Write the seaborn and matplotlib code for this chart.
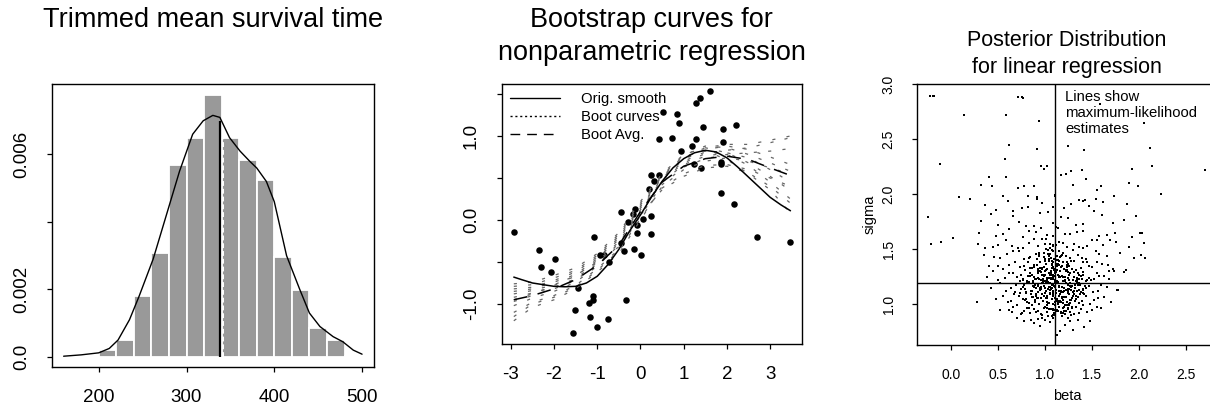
import numpy as np
import pandas as pd
import seaborn as sns
import matplotlib.pyplot as plt
from matplotlib.lines import Line2D

# ---- panel 1: trimmed mean survival time ----
bin_edges = [200, 220, 240, 260, 280, 300, 320, 340, 360, 380, 400, 420, 440, 460, 480, 500]
hist_density = [0.0002, 0.0005, 0.00181, 0.00307, 0.00568, 0.00649, 0.00775, 0.00649,
                0.00584, 0.00523, 0.00297, 0.00198, 0.00087, 0.0005, 0.00004]
dens_x = [160, 180, 200, 212, 222, 235, 246, 262, 277, 292, 307, 319, 330, 338,
          349, 361, 372, 380, 391, 400, 414, 429, 440, 452, 467, 478, 490, 500]
dens_y = [0.00002, 0.00006, 0.00012, 0.00025, 0.0005, 0.0011, 0.0018, 0.0029, 0.0042,
          0.0055, 0.0066, 0.0070, 0.00716, 0.0071, 0.0065, 0.0061, 0.0058, 0.0056,
          0.0052, 0.0046, 0.0030, 0.0020, 0.0013, 0.0009, 0.0006, 0.00045, 0.0002, 0.00008]
tmean = 338.5
tmean_top = 0.00700

# ---- panel 2: bootstrap curves ----
pts_x = [-2.93, -2.35, -2.31, -1.98, -2.06, -1.45, -1.51, -1.57, -1.08, -1.10,
         -1.09, -1.19, -1.16, -1.00, -0.93, -0.85, -0.72, -0.74, -0.45, -0.45,
         -0.39, -0.34, -0.29, -0.18, -0.12, -0.14, -0.08, -0.07, 0.02, 0.07,
         0.25, 0.25, 0.19, 0.25, 0.32, 0.44, 0.43, 0.51, 0.72, 0.85,
         0.88, 0.93, 1.20, 1.24, 1.28, 1.37, 1.29, 1.40, 1.45, 1.62,
         1.87, 1.87, 1.87, 1.90, 1.90, 2.16, 2.22, 2.69, 3.47]
pts_y = [-0.14, -0.36, -0.56, -0.46, -0.62, -0.81, -1.07, -1.35, -0.20, -0.90,
         -0.95, -0.99, -1.15, -1.27, -0.42, -0.42, -0.50, -1.18, 0.10, -0.27,
         -0.37, -0.95, -0.02, 0.07, 0.13, -0.34, -0.06, -0.15, -0.42, 0.01,
         0.05, -0.17, 0.37, 0.53, 0.46, 0.53, 0.96, 1.29, 0.98, 1.26,
         1.15, 0.82, 0.88, 0.67, 1.39, 1.45, 0.96, 0.62, 1.11, 1.54,
         0.67, 0.69, 0.32, 0.93, 1.08, 0.19, 1.13, -0.20, -0.26]

smooth_x = [-2.93, -2.75, -2.5, -2.25, -2.0, -1.75, -1.5, -1.25, -1.0, -0.75, -0.5, -0.25, 0.0,
            0.25, 0.5, 0.75, 1.0, 1.25, 1.5, 1.75, 2.0, 2.25, 2.5, 2.75, 3.0, 3.25, 3.47]
smooth_y = [-0.68, -0.71, -0.75, -0.77, -0.79, -0.795, -0.79, -0.75, -0.67, -0.53, -0.35, -0.13, 0.06,
            0.27, 0.46, 0.62, 0.73, 0.80, 0.83, 0.81, 0.74, 0.63, 0.51, 0.39, 0.27, 0.18, 0.11]

knot_x = [-2.93, -2.5, -2.0, -1.5, -1.0, -0.5, 0.0, 0.5, 1.0, 1.5, 2.0, 2.5, 3.0, 3.47]
avg_y = [-0.95, -0.90, -0.82, -0.71, -0.54, -0.30, 0.10, 0.45, 0.64, 0.73, 0.76, 0.72, 0.62, 0.53]
boot_curves = [
    [-1.20, -1.04, -0.95, -0.82, -0.62, -0.40, 0.00, 0.40, 0.60, 0.70, 0.74, 0.70, 0.62, 0.55],
    [-1.10, -0.98, -0.90, -0.78, -0.58, -0.35, 0.05, 0.42, 0.63, 0.73, 0.78, 0.80, 0.82, 0.85],
    [-1.02, -0.93, -0.85, -0.74, -0.55, -0.30, 0.08, 0.45, 0.66, 0.76, 0.80, 0.74, 0.60, 0.45],
    [-0.97, -0.90, -0.82, -0.72, -0.52, -0.28, 0.10, 0.47, 0.68, 0.79, 0.83, 0.86, 0.92, 0.98],
    [-0.92, -0.87, -0.80, -0.70, -0.50, -0.26, 0.12, 0.48, 0.70, 0.81, 0.78, 0.65, 0.45, 0.25],
    [-0.88, -0.84, -0.77, -0.67, -0.48, -0.23, 0.14, 0.50, 0.72, 0.84, 0.88, 0.84, 0.75, 0.66],
    [-0.85, -0.82, -0.74, -0.65, -0.46, -0.21, 0.16, 0.51, 0.74, 0.86, 0.90, 0.90, 0.95, 1.00],
    [-0.82, -0.80, -0.72, -0.62, -0.44, -0.19, 0.18, 0.52, 0.76, 0.82, 0.72, 0.55, 0.36, 0.08],
    [-0.79, -0.77, -0.69, -0.60, -0.42, -0.17, 0.20, 0.53, 0.77, 0.88, 0.86, 0.78, 0.68, 0.58],
    [-0.76, -0.74, -0.66, -0.57, -0.40, -0.15, 0.22, 0.55, 0.78, 0.86, 0.80, 0.68, 0.52, 0.35],
    [-1.15, -1.00, -0.92, -0.80, -0.60, -0.37, 0.02, 0.38, 0.55, 0.65, 0.66, 0.60, 0.50, 0.40],
    [-0.95, -0.88, -0.78, -0.66, -0.50, -0.32, 0.06, 0.36, 0.52, 0.62, 0.64, 0.56, 0.40, 0.20],
]

# ---- panel 3: posterior draws ----
post_beta = [
    1.12, 0.95, 1.30, 0.88, 1.05, 1.21, 0.78, 1.42, 1.00, 1.16,
    0.92, 1.27, 1.08, 0.70, 1.35, 1.18, 0.85, 1.48, 1.03, 1.24,
    0.62, 0.74, 0.81, 0.90, 0.97, 1.04, 1.10, 1.15, 1.22, 1.31,
    1.38, 1.45, 1.55, 0.86, 0.99, 1.13, 1.26, 1.08, 0.93, 1.19,
    0.70, 0.78, 1.02, 1.36, 1.50, 1.28, 0.84, 1.11, 1.06, 0.96,
    1.17, 1.24, 0.88, 0.75, 1.41, 1.33, 1.00, 1.14, 0.66, 1.60,
    0.48, 0.60, 0.72, 0.83, 0.91, 0.98, 1.05, 1.09, 1.13, 1.18,
    1.23, 1.29, 1.36, 1.44, 1.52, 1.63, 0.67, 0.79, 0.94, 1.02,
    1.11, 1.16, 1.26, 1.33, 1.48, 0.55, 0.87, 1.07, 1.21, 1.39,
    0.76, 0.99, 1.14, 1.31, 1.57, 1.70, 0.64, 1.04, 1.19, 0.90,
    1.27, 1.42, 0.81, 0.96, 1.09, 1.35, 1.12, 1.00, 0.73, 1.24,
    0.42, 0.58, 0.69, 0.80, 0.88, 0.95, 1.01, 1.06, 1.10, 1.15,
    1.20, 1.25, 1.32, 1.40, 1.47, 1.56, 1.66, 1.78, 0.52, 0.74,
    0.85, 0.93, 1.03, 1.08, 1.13, 1.18, 1.28, 1.37, 1.51, 0.64,
    0.99, 1.12, 1.22, 1.34, 1.44, 0.78, 0.90, 1.05, 1.17, 1.29,
    0.97, 1.09, 1.40, 0.68, 1.60, 1.25, 1.02, 0.83, 1.14, 1.36,
    0.38, 0.50, 0.62, 0.73, 0.82, 0.89, 0.96, 1.02, 1.07, 1.11,
    1.16, 1.21, 1.27, 1.34, 1.41, 1.49, 1.58, 1.68, 1.84, 0.57,
    0.77, 0.92, 1.04, 1.13, 1.24, 1.38, 1.52, 0.66, 1.00, 1.19,
    0.86, 1.09, 1.31, 1.45, 0.70, 1.06, 1.15, 1.63, 0.98, 1.26,
    1.12, 0.94, 1.36, 0.81, 1.55, 1.04, 1.22, 1.74, 0.45, 1.09,
    0.40, 0.55, 0.68, 0.79, 0.88, 0.97, 1.04, 1.09, 1.14, 1.20,
    1.26, 1.33, 1.41, 1.50, 1.61, 1.73, 0.62, 0.84, 1.00, 1.17,
    1.29, 1.45, 0.73, 0.92, 1.07, 1.23, 1.38, 1.55, 1.86, 0.50,
    1.12, 0.95, 1.31, 1.02, 1.18, 0.82, 1.47, 1.67, 1.10, 1.25,
    0.35, 0.52, 0.66, 0.78, 0.90, 0.99, 1.07, 1.13, 1.19, 1.27,
    1.35, 1.44, 1.54, 1.66, 1.80, 1.95, 0.59, 0.84, 1.03, 1.22,
    1.39, 0.72, 0.94, 1.10, 1.30, 1.58, 0.46, 1.15, 1.00, 2.02,
    0.28, 0.44, 0.58, 0.71, 0.83, 0.93, 1.01, 1.08, 1.15, 1.23,
    1.31, 1.40, 1.50, 1.62, 1.76, 1.90, 2.06, 0.65, 0.88, 1.12,
    1.36, 1.55, 0.50, 0.77, 0.97, 1.19, 1.45, 1.69, 0.36, 1.05,
    0.30, 0.48, 0.62, 0.76, 0.90, 1.02, 1.14, 1.27, 1.41, 1.58,
    1.75, 1.93, 2.03, 0.55, 0.83, 1.08, 1.34, 1.66, 0.96, 1.21,
    0.32, 0.50, 0.66, 0.80, 0.95, 1.09, 1.24, 1.40, 1.61, 1.84,
    0.42, 0.72, 0.88, 1.03, 1.17, 1.33, 1.52, 1.72, 1.97, 1.12,
    0.36, 0.48, 0.60, 0.82, 0.97, 1.20, 1.36, 1.47, 1.62, 1.87,
    0.55, 0.75, 0.91, 1.11, 1.28, 1.54, 1.74, 1.40, 0.66, 1.08,
    -0.23, -0.20, -0.18, 0.13, 0.58, 0.71, 0.75, 0.77, 0.94, 0.62,
    0.91, 0.57, -0.12, 0.96, 1.02, 0.99, 0.58, 0.40, 0.43, 0.32,
    0.08, 0.20, -0.25, -0.22, -0.11, 0.02, 1.25, 1.42, 1.59, 2.06,
    2.12, 2.14, 2.24, 2.71, 1.22, 1.28, 1.39, 1.44, 1.30, 1.93,
    1.90, 1.99, 1.17, 0.71, 0.78, 0.88, 0.82, 0.91, 1.11, 1.55,
    1.60, 1.43, 2.01, 2.07, 0.27, 1.13, 0.52, 1.77, 0.65, 1.68,
    1.05, 1.12, 0.98, 1.18, 1.08, 0.92, 1.25, 1.02, 1.15, 0.87,
    1.11, 1.22, 0.95, 1.06, 1.30, 0.84, 1.17, 1.01, 1.13, 1.27,
    0.91, 1.09, 1.20, 0.79, 1.04, 1.16, 1.34, 0.97, 1.10, 1.23,
    1.07, 0.89, 1.28, 1.14, 0.99, 1.19, 0.76, 1.38, 1.03, 1.10,
    1.24, 0.96, 1.11, 1.32, 0.86, 1.06, 1.21, 1.00, 1.15, 0.93,
    1.08, 1.17, 0.82, 1.26, 1.02, 1.13, 0.94, 1.36, 1.19, 1.05,
    1.03, 1.16, 0.89, 1.21, 0.97, 1.09, 1.31, 0.84, 1.14, 1.00,
    1.19, 0.93, 1.07, 1.27, 1.12, 0.80, 1.40, 1.05, 0.99, 1.23,
    0.87, 1.13, 1.01, 1.33, 1.18, 0.95, 1.08, 1.25, 0.74, 1.14,
    1.10, 1.29, 0.90, 1.04, 1.20, 0.98, 1.43, 1.15, 0.83, 1.06,
    0.96, 1.22, 1.07, 1.35, 0.88, 1.12, 1.01, 1.26, 1.17, 0.78,
    1.16, 1.04, 0.92, 1.30, 1.09, 1.21, 0.86, 1.13, 1.47, 1.00,
    1.12, 0.99, 1.24, 0.81, 1.06, 1.18, 1.37, 0.94, 1.10, 1.28,
    1.02, 1.14, 0.91, 1.23, 1.08, 1.32, 0.97, 1.19, 0.85, 1.11,
    1.20, 1.05, 1.34, 0.89, 1.15, 1.01, 1.27, 0.77, 1.09, 1.41,
    0.95, 1.17, 1.06, 1.29, 0.83, 1.12, 1.24, 1.00, 1.39, 1.07,
    1.13, 0.98, 1.22, 1.08, 1.31, 0.92, 1.16, 1.04, 1.26, 0.87,
    1.07, 1.19, 0.93, 1.35, 1.11, 1.02, 1.25, 0.80, 1.15, 1.44,
    1.18, 1.03, 1.28, 0.97, 1.10, 1.21, 0.88, 1.33, 1.05, 1.13,
    0.90, 1.14, 1.01, 1.23, 1.36, 1.08, 0.96, 1.17, 1.30, 1.05,
    1.22, 0.86, 1.11, 1.02, 1.27, 1.15, 0.99, 1.38, 1.07, 1.20,
]
post_sigma = [
    0.72, 0.80, 0.77, 0.83, 0.84, 0.81, 0.85, 0.79, 0.86, 0.76,
    0.87, 0.85, 0.88, 0.88, 0.86, 0.89, 0.86, 0.85, 0.89, 0.88,
    0.95, 0.91, 0.97, 0.93, 0.90, 0.96, 0.92, 0.98, 0.94, 0.91,
    0.96, 0.93, 0.98, 0.99, 0.97, 0.95, 0.99, 0.90, 0.94, 0.97,
    0.99, 0.94, 0.93, 0.92, 0.95, 0.90, 0.92, 0.99, 0.96, 0.91,
    0.93, 0.97, 0.96, 0.92, 0.99, 0.98, 0.98, 0.94, 0.98, 0.97,
    1.05, 1.02, 1.08, 1.01, 1.06, 1.03, 1.09, 1.00, 1.04, 1.07,
    1.02, 1.06, 1.01, 1.08, 1.04, 1.07, 1.09, 1.04, 1.00, 1.02,
    1.06, 1.03, 1.09, 1.05, 1.00, 1.08, 1.07, 1.05, 1.07, 1.03,
    1.05, 1.08, 1.01, 1.09, 1.06, 1.02, 1.03, 1.01, 1.04, 1.09,
    1.04, 1.09, 1.02, 1.06, 1.08, 1.07, 1.10, 1.10, 1.10, 1.10,
    1.15, 1.12, 1.18, 1.11, 1.16, 1.13, 1.19, 1.14, 1.17, 1.12,
    1.15, 1.11, 1.18, 1.14, 1.17, 1.12, 1.16, 1.13, 1.19, 1.14,
    1.12, 1.18, 1.14, 1.11, 1.19, 1.16, 1.13, 1.18, 1.11, 1.15,
    1.17, 1.13, 1.19, 1.12, 1.15, 1.18, 1.15, 1.16, 1.11, 1.17,
    1.19, 1.12, 1.13, 1.11, 1.18, 1.14, 1.20, 1.20, 1.20, 1.19,
    1.25, 1.22, 1.28, 1.21, 1.26, 1.23, 1.29, 1.24, 1.27, 1.22,
    1.25, 1.21, 1.28, 1.24, 1.27, 1.22, 1.26, 1.23, 1.29, 1.24,
    1.22, 1.28, 1.24, 1.21, 1.29, 1.26, 1.23, 1.28, 1.21, 1.25,
    1.27, 1.23, 1.29, 1.22, 1.25, 1.28, 1.25, 1.26, 1.21, 1.27,
    1.29, 1.23, 1.23, 1.21, 1.28, 1.24, 1.30, 1.30, 1.30, 1.27,
    1.35, 1.32, 1.38, 1.31, 1.36, 1.33, 1.39, 1.34, 1.37, 1.32,
    1.35, 1.31, 1.38, 1.34, 1.37, 1.32, 1.36, 1.33, 1.39, 1.34,
    1.32, 1.38, 1.34, 1.31, 1.39, 1.36, 1.33, 1.38, 1.31, 1.35,
    1.37, 1.33, 1.39, 1.32, 1.35, 1.38, 1.35, 1.36, 1.31, 1.37,
    1.45, 1.42, 1.48, 1.41, 1.46, 1.43, 1.49, 1.44, 1.47, 1.42,
    1.45, 1.41, 1.48, 1.44, 1.47, 1.42, 1.46, 1.43, 1.49, 1.44,
    1.42, 1.48, 1.44, 1.41, 1.49, 1.46, 1.43, 1.48, 1.41, 1.45,
    1.55, 1.52, 1.58, 1.51, 1.56, 1.53, 1.59, 1.54, 1.57, 1.52,
    1.55, 1.51, 1.58, 1.54, 1.57, 1.52, 1.56, 1.53, 1.59, 1.54,
    1.52, 1.58, 1.54, 1.51, 1.59, 1.56, 1.53, 1.58, 1.51, 1.55,
    1.65, 1.62, 1.68, 1.61, 1.66, 1.63, 1.69, 1.64, 1.67, 1.62,
    1.65, 1.61, 1.65, 1.64, 1.67, 1.62, 1.66, 1.63, 1.69, 1.64,
    1.76, 1.72, 1.80, 1.71, 1.83, 1.74, 1.78, 1.73, 1.81, 1.77,
    1.82, 1.75, 1.71, 1.84, 1.79, 1.72, 1.85, 1.74, 1.80, 1.70,
    1.90, 1.86, 1.94, 1.88, 1.92, 1.87, 1.95, 1.89, 1.93, 1.91,
    1.98, 1.87, 1.96, 1.99, 1.91, 1.96, 1.98, 1.94, 1.85, 1.88,
    2.89, 2.89, 2.89, 2.72, 2.72, 2.88, 2.88, 2.87, 2.66, 2.45,
    2.41, 2.32, 2.27, 2.26, 2.26, 2.23, 2.16, 2.16, 2.07, 2.08,
    1.97, 1.96, 1.79, 1.55, 1.57, 1.60, 2.44, 2.40, 2.82, 2.65,
    2.42, 2.26, 2.00, 2.22, 2.18, 2.21, 2.22, 2.14, 2.08, 2.23,
    2.10, 2.07, 2.17, 2.06, 2.07, 2.07, 1.98, 1.97, 1.98, 2.04,
    2.07, 1.95, 1.65, 1.42, 1.02, 0.72, 0.95, 1.13, 0.93, 1.30,
    1.13, 1.21, 1.27, 1.06, 1.33, 1.17, 1.24, 0.97, 1.39, 1.21,
    1.02, 1.31, 1.15, 1.23, 1.08, 1.26, 1.44, 1.12, 1.05, 1.19,
    1.36, 1.10, 0.94, 1.14, 1.28, 1.30, 1.22, 1.09, 1.41, 1.34,
    1.18, 1.04, 1.16, 1.27, 1.47, 1.01, 1.23, 1.11, 1.20, 0.90,
    1.37, 1.22, 1.16, 1.03, 1.33, 1.42, 0.99, 1.30, 1.08, 1.11,
    1.25, 0.93, 1.19, 1.14, 1.06, 1.35, 1.45, 1.27, 1.21, 1.51,
    1.01, 1.09, 1.18, 1.25, 1.32, 0.96, 1.12, 1.28, 1.40, 1.15,
    0.92, 1.24, 1.36, 1.17, 1.04, 1.10, 1.29, 1.46, 1.21, 0.99,
    1.19, 1.31, 1.06, 1.21, 1.45, 1.38, 0.95, 1.13, 1.27, 1.03,
    1.26, 0.98, 1.08, 1.41, 1.12, 1.23, 1.17, 1.36, 0.97, 1.30,
    1.14, 1.07, 1.33, 1.28, 1.25, 0.94, 1.50, 1.22, 1.02, 1.35,
    1.43, 1.16, 1.29, 1.11, 1.38, 0.91, 1.07, 1.19, 1.24, 1.27,
    1.05, 1.34, 0.96, 1.20, 1.14, 1.26, 1.09, 1.47, 1.32, 1.39,
    1.22, 1.00, 1.41, 1.31, 1.18, 1.15, 0.88, 1.11, 1.09, 1.28,
    1.07, 1.27, 1.20, 1.02, 1.17, 1.37, 0.93, 1.16, 1.48, 1.10,
    1.30, 1.12, 1.24, 0.97, 1.42, 1.03, 1.18, 1.55, 1.23, 0.89,
    1.36, 1.20, 1.13, 1.09, 1.25, 1.32, 1.02, 1.44, 1.00, 1.17,
    1.15, 1.38, 1.06, 1.18, 1.29, 0.99, 1.35, 1.05, 1.26, 1.21,
    1.11, 1.46, 1.04, 1.27, 0.95, 1.22, 1.34, 1.08, 1.19, 1.40,
    1.23, 1.03, 1.31, 1.38, 1.13, 1.53, 1.16, 0.92, 1.22, 1.10,
    1.30, 1.12, 1.20, 1.08, 1.01, 1.16, 1.26, 1.33, 1.37, 0.98,
]
beta_mle = 1.106
sigma_mle = 1.196

sns.set_style("white")
plt.rcParams['font.family'] = ['Liberation Sans', 'DejaVu Sans']
plt.rcParams['axes.unicode_minus'] = False
plt.rcParams['text.color'] = 'black'
plt.rcParams['axes.labelcolor'] = 'black'
plt.rcParams['xtick.color'] = 'black'
plt.rcParams['ytick.color'] = 'black'

W, H = 1210, 408
fig = plt.figure(figsize=(W / 100, H / 100), dpi=100)


def px_axes(left, top, right, bottom):
    return fig.add_axes([left / W, 1 - bottom / H, (right - left) / W, (bottom - top) / H])


def style_axes(ax, tick_size, pad_x, pad_y):
    for sp in ax.spines.values():
        sp.set_visible(True)
        sp.set_color('black')
        sp.set_linewidth(1.0)
    ax.tick_params(axis='both', direction='out', length=3.6, width=0.9, color='black',
                   labelcolor='black', labelsize=tick_size, bottom=True, left=True)
    ax.tick_params(axis='x', pad=pad_x)
    ax.tick_params(axis='y', pad=pad_y, labelrotation=90)
    for lab in ax.get_yticklabels():
        lab.set_va('center')


# panel 1
ax1 = px_axes(51.7, 84, 374, 367)
sns.histplot(x=[(a + b) / 2 for a, b in zip(bin_edges[:-1], bin_edges[1:])], weights=hist_density,
             bins=bin_edges, stat='count', color='#999999', alpha=1, edgecolor='white',
             linewidth=1.3, ax=ax1)
sns.lineplot(x=dens_x, y=dens_y, color='black', linewidth=1.0, ax=ax1)
ax1.vlines(tmean, 0, tmean_top, color='black', linewidth=1.6)
ax1.vlines(tmean + 2.5, 0, tmean_top * 0.97, color='white', linewidth=1.4, linestyles=(0, (2.5, 1.5)))
ax1.set_xlim(146.4, 513.6)
ax1.set_ylim(-0.0003, 0.00809)
ax1.set_xticks([200, 300, 400, 500])
ax1.set_xticklabels(['200', '300', '400', '500'])
ax1.set_yticks([0, 0.002, 0.004, 0.006])
ax1.set_yticklabels(['0.0', '0.002', '', '0.006'])
ax1.set_xlabel('')
ax1.set_ylabel('')
style_axes(ax1, 13.5, 12, 12)
fig.text(212.8 / W, 1 - 20 / H, 'Trimmed mean survival time', ha='center', va='center', fontsize=19.5)

# panel 2
ax2 = px_axes(501.7, 84, 801.7, 344.3)
for curve in boot_curves:
    sns.lineplot(x=knot_x, y=curve, color='#666666', linewidth=0.9,
                 linestyle=(0, (2.5, 9)), ax=ax2)
sns.lineplot(x=smooth_x, y=smooth_y, color='black', linewidth=1.1, ax=ax2)
sns.lineplot(x=knot_x, y=avg_y, color='black', linewidth=1.1, linestyle=(0, (9, 7)), ax=ax2)
sns.scatterplot(x=pts_x, y=pts_y, color='black', s=22, linewidth=0, ax=ax2)
ax2.set_xlim(-3.21, 3.73)
ax2.set_ylim(-1.48, 1.619)
ax2.set_xticks([-3, -2, -1, 0, 1, 2, 3])
ax2.set_xticklabels(['-3', '-2', '-1', '0', '1', '2', '3'])
ax2.set_yticks([-1.0, -0.5, 0.0, 0.5, 1.0, 1.5])
ax2.set_yticklabels(['-1.0', '', '0.0', '', '1.0', ''])
style_axes(ax2, 13.5, 12, 12)
handles = [Line2D([], [], color='black', linewidth=1.0),
           Line2D([], [], color='black', linewidth=1.0, linestyle=(0, (1.5, 2))),
           Line2D([], [], color='black', linewidth=1.0, linestyle=(0, (7, 5)))]
ax2.legend(handles, ['Orig. smooth', 'Boot curves', 'Boot Avg.'], loc='upper left',
           bbox_to_anchor=(0.0, 1.0), frameon=False, fontsize=10.7, handlelength=3.4,
           handletextpad=1.4, labelspacing=0.28, borderaxespad=0.15)
fig.text(651.7 / W, 1 - 20 / H, 'Bootstrap curves for', ha='center', va='center', fontsize=19.5)
fig.text(651.7 / W, 1 - 53 / H, 'nonparametric regression', ha='center', va='center', fontsize=19.5)

# panel 3
ax3 = px_axes(917.3, 84, 1217, 345)
sns.scatterplot(x=post_beta, y=post_sigma, color='black', marker='s', s=3.3, linewidth=0, ax=ax3)
ax3.axvline(beta_mle, color='black', linewidth=1.0)
ax3.axhline(sigma_mle, color='black', linewidth=1.0)
ax3.set_xlim(-0.363, 2.835)
ax3.set_ylim(0.631, 3.0)
ax3.set_xticks([0.0, 0.5, 1.0, 1.5, 2.0, 2.5])
ax3.set_xticklabels(['0.0', '0.5', '1.0', '1.5', '2.0', '2.5'])
ax3.set_yticks([1.0, 1.5, 2.0, 2.5, 3.0])
ax3.set_yticklabels(['1.0', '1.5', '2.0', '2.5', '3.0'])
style_axes(ax3, 10, 13, 12)
ax3.set_xlabel('beta', fontsize=10.5, labelpad=5)
ax3.set_ylabel('sigma', fontsize=10.5, labelpad=4)
ax3.text(1065 / W, 1 - 90 / H, 'Lines show\nmaximum-likelihood\nestimates', transform=fig.transFigure,
         ha='left', va='top', fontsize=10.7, linespacing=1.2)
fig.text(1067 / W, 1 - 40 / H, 'Posterior Distribution', ha='center', va='center', fontsize=15.5)
fig.text(1067 / W, 1 - 67 / H, 'for linear regression', ha='center', va='center', fontsize=15.5)

fig.savefig('out.png', dpi=100)
